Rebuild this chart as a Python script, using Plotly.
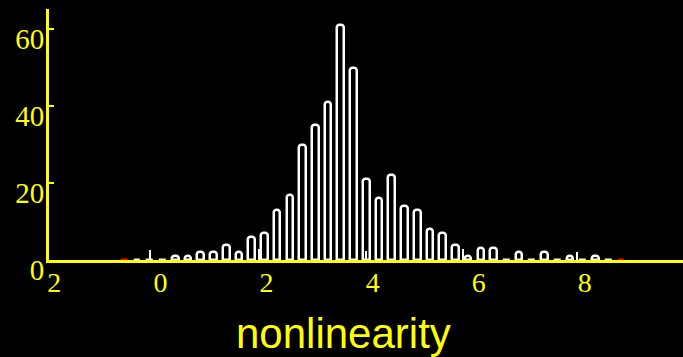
import plotly.graph_objects as go

# Histogram bin centres (nonlinearity) and counts
bin_centers = [-0.68, -0.44, -0.20, 0.04, 0.28, 0.52, 0.76, 1.00,
               1.24, 1.48, 1.72, 1.96, 2.20, 2.44, 2.68, 2.92,
               3.16, 3.40, 3.64, 3.88, 4.12, 4.36, 4.60, 4.84,
               5.08, 5.32, 5.56, 5.80, 6.04, 6.28, 6.52, 6.76,
               7.00, 7.24, 7.48, 7.72, 7.96, 8.20, 8.44, 8.68]
counts = [0, 0, 0, 0, 1, 1, 2, 2,
          4, 2, 6, 7, 13, 17, 30, 35,
          41, 61, 50, 21, 16, 22, 14, 13,
          8, 7, 4, 1, 3, 3, 0, 2,
          0, 2, 0, 1, 0, 1, 0, 0]
edge_colors = ["red"] + ["white"] * 38 + ["red"]

# thin spikes seen at a few places
spike_x = [-0.19, 1.87, 3.87, 5.71, 7.85]
spike_y = [2.5, 2.8, 2.4, 2.9, 2.0]

x_tick_vals = [-2, 0, 2, 4, 6, 8]
x_tick_text = ["2", "0", "2", "4", "6", "8"]
y_tick_vals = [0, 20, 40, 60]
y_tick_text = ["0", "20", "40", "60"]

YEL = "#ffff00"

fig = go.Figure()
fig.add_trace(go.Bar(
    x=bin_centers, y=counts, width=0.125,
    marker=dict(color="black", line=dict(color=edge_colors, width=2.5),
                cornerradius=3),
    showlegend=False, hoverinfo="x+y"))
fig.add_trace(go.Bar(
    x=spike_x, y=spike_y, width=0.025,
    marker=dict(color="white", line=dict(width=0)),
    showlegend=False))

fig.update_layout(
    width=683, height=357,
    paper_bgcolor="black", plot_bgcolor="black",
    margin=dict(l=49, r=0, t=9, b=97),
    barmode="overlay",
    bargap=0,
    xaxis=dict(range=[-2.1, 9.85], showgrid=False, zeroline=False,
               showline=True, linecolor=YEL, linewidth=3,
               ticks="", tickvals=x_tick_vals, ticktext=x_tick_text,
               tickfont=dict(family="Liberation Serif", size=28, color=YEL),
               ticklabelstandoff=-5),
    yaxis=dict(range=[0, 65.2], showgrid=False, zeroline=False,
               showline=True, linecolor=YEL, linewidth=3,
               ticks="inside", ticklen=5, tickwidth=2, tickcolor=YEL,
               tickvals=y_tick_vals, ticktext=y_tick_text,
               tickfont=dict(family="Liberation Serif", size=29, color=YEL),
               ticklabelshift=10, ticklabelstandoff=-4),
    annotations=[dict(text="nonlinearity", xref="paper", yref="paper",
                      x=0.4646, y=-0.292, xanchor="center", yanchor="middle",
                      showarrow=False,
                      font=dict(family="Liberation Sans", size=42, color=YEL))],
)

fig.write_html("out.html", config={"displayModeBar": False},
               post_script="document.body.style.margin='0';document.body.style.background='black';")
